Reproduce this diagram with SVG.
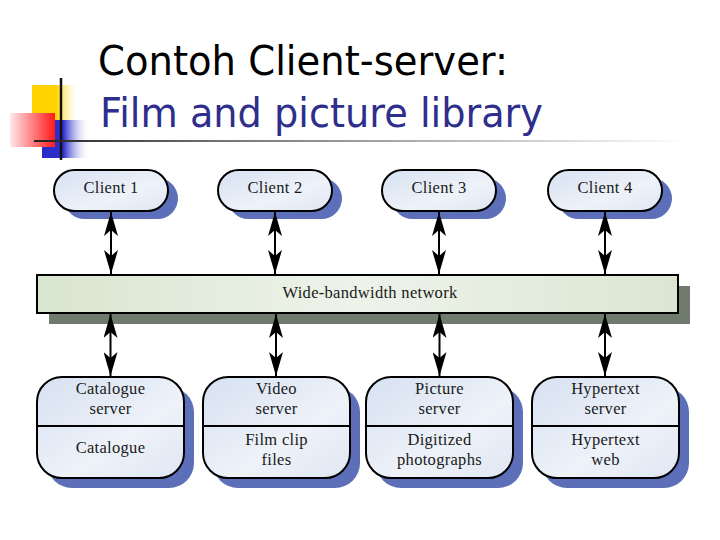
<svg xmlns="http://www.w3.org/2000/svg" width="720" height="540" viewBox="0 0 720 540">
<style>
.title{font-family:"DejaVu Sans","Liberation Sans",sans-serif;font-size:40px}
.lbl{font-family:"Liberation Serif","Times New Roman",serif;font-size:16.5px;fill:#1a1a1a;text-anchor:middle;letter-spacing:0.3px}
.node{stroke:#000;stroke-width:2}
.pill{fill:url(#gBlue)}
.shadow{fill:#5d6fb8}
.conn line{stroke:#000;stroke-width:2}
</style>
<defs>
<linearGradient id="gBlue" x1="0" y1="0" x2="1" y2="1">
<stop offset="0" stop-color="#d6e1f1"/><stop offset="0.6" stop-color="#eef2f9"/><stop offset="1" stop-color="#dfe7f3"/>
</linearGradient>
<linearGradient id="gGreen" x1="0" y1="0" x2="1" y2="0">
<stop offset="0" stop-color="#d8e5cf"/><stop offset="0.5" stop-color="#eef3ea"/><stop offset="1" stop-color="#dae6d2"/>
</linearGradient>
<linearGradient id="gYel" x1="0" y1="0" x2="1" y2="0">
<stop offset="0" stop-color="#ffd200"/><stop offset="0.5" stop-color="#ffd200"/><stop offset="1" stop-color="#ffffff" stop-opacity="0"/>
</linearGradient>
<linearGradient id="gRed" x1="0" y1="0" x2="1" y2="0">
<stop offset="0" stop-color="#ffe8e8"/><stop offset="1" stop-color="#ff1a1a"/>
</linearGradient>
<linearGradient id="gBl" x1="0" y1="0" x2="1" y2="0">
<stop offset="0" stop-color="#2a2ac8"/><stop offset="0.45" stop-color="#3030cc"/><stop offset="1" stop-color="#ffffff" stop-opacity="0"/>
</linearGradient>
<linearGradient id="gLine" x1="0" y1="0" x2="1" y2="0">
<stop offset="0" stop-color="#222"/><stop offset="0.3" stop-color="#777"/><stop offset="1" stop-color="#fff"/>
</linearGradient>
<marker id="ah2" viewBox="0 0 24 14" refX="24" refY="7" markerWidth="24" markerHeight="14" markerUnits="userSpaceOnUse" orient="auto-start-reverse">
<path d="M0,0 L24,7 L0,14 L6,7 Z" fill="#000"/>
</marker>
</defs>
<rect width="720" height="540" fill="#fff"/>
<g id="logo">
<rect x="32" y="85" width="48" height="35" fill="url(#gYel)"/>
<rect x="42" y="120" width="48" height="38" fill="url(#gBl)"/>
<rect x="10" y="113" width="45" height="34" fill="url(#gRed)"/>
<line x1="61" y1="78" x2="61" y2="160" stroke="#111" stroke-width="2.5"/>
<rect x="34" y="140" width="656" height="2" fill="url(#gLine)"/>
</g>
<g id="title">
<text class="title" x="98" y="75" fill="#000" textLength="410" lengthAdjust="spacingAndGlyphs">Contoh Client-server:</text>
<text class="title" x="100" y="127" fill="#2e2e8c" textLength="443" lengthAdjust="spacingAndGlyphs">Film and picture library</text>
</g>
<g id="network">
<rect x="49" y="286" width="641" height="38" fill="#6f7b6c"/>
<rect class="node" x="37" y="275" width="641" height="38" fill="url(#gGreen)"/>
<text class="lbl" x="370" y="298">Wide-bandwidth network</text>
</g>
<g id="client1">
<rect class="shadow" x="64" y="178" width="114" height="41" rx="20.5"/>
<rect class="node pill" x="54" y="170" width="114" height="41" rx="20.5"/>
<text class="lbl" x="111" y="193">Client 1</text>
</g>
<g id="client2">
<rect class="shadow" x="228" y="178" width="114" height="41" rx="20.5"/>
<rect class="node pill" x="218" y="170" width="114" height="41" rx="20.5"/>
<text class="lbl" x="275" y="193">Client 2</text>
</g>
<g id="client3">
<rect class="shadow" x="392" y="178" width="114" height="41" rx="20.5"/>
<rect class="node pill" x="382" y="170" width="114" height="41" rx="20.5"/>
<text class="lbl" x="439" y="193">Client 3</text>
</g>
<g id="client4">
<rect class="shadow" x="558" y="178" width="114" height="41" rx="20.5"/>
<rect class="node pill" x="548" y="170" width="114" height="41" rx="20.5"/>
<text class="lbl" x="605" y="193">Client 4</text>
</g>
<g id="catalogue">
<rect class="shadow" x="47" y="387" width="147" height="101" rx="25"/>
<rect class="node pill" x="37" y="377" width="147" height="101" rx="25"/>
<line x1="37" y1="426" x2="184" y2="426" stroke="#000" stroke-width="2"/>
<text class="lbl" x="110.5" y="394">Catalogue</text>
<text class="lbl" x="110.5" y="414">server</text>
<text class="lbl" x="110.5" y="453">Catalogue</text>
</g>
<g id="video">
<rect class="shadow" x="213" y="387" width="147" height="101" rx="25"/>
<rect class="node pill" x="203" y="377" width="147" height="101" rx="25"/>
<line x1="203" y1="426" x2="350" y2="426" stroke="#000" stroke-width="2"/>
<text class="lbl" x="276.5" y="394">Video</text>
<text class="lbl" x="276.5" y="414">server</text>
<text class="lbl" x="276.5" y="445">Film clip</text>
<text class="lbl" x="276.5" y="465">files</text>
</g>
<g id="picture">
<rect class="shadow" x="376" y="387" width="147" height="101" rx="25"/>
<rect class="node pill" x="366" y="377" width="147" height="101" rx="25"/>
<line x1="366" y1="426" x2="513" y2="426" stroke="#000" stroke-width="2"/>
<text class="lbl" x="439.5" y="394">Picture</text>
<text class="lbl" x="439.5" y="414">server</text>
<text class="lbl" x="439.5" y="445">Digitized</text>
<text class="lbl" x="439.5" y="465">photographs</text>
</g>
<g id="hypertext">
<rect class="shadow" x="542" y="387" width="147" height="101" rx="25"/>
<rect class="node pill" x="532" y="377" width="147" height="101" rx="25"/>
<line x1="532" y1="426" x2="679" y2="426" stroke="#000" stroke-width="2"/>
<text class="lbl" x="605.5" y="394">Hypertext</text>
<text class="lbl" x="605.5" y="414">server</text>
<text class="lbl" x="605.5" y="445">Hypertext</text>
<text class="lbl" x="605.5" y="465">web</text>
</g>
<g id="connectors" class="conn">
<line x1="111" y1="212" x2="111" y2="274" marker-start="url(#ah2)" marker-end="url(#ah2)"/>
<line x1="275" y1="212" x2="275" y2="274" marker-start="url(#ah2)" marker-end="url(#ah2)"/>
<line x1="439" y1="212" x2="439" y2="274" marker-start="url(#ah2)" marker-end="url(#ah2)"/>
<line x1="605" y1="212" x2="605" y2="274" marker-start="url(#ah2)" marker-end="url(#ah2)"/>
<line x1="110.5" y1="314" x2="110.5" y2="376" marker-start="url(#ah2)" marker-end="url(#ah2)"/>
<line x1="276" y1="314" x2="276" y2="376" marker-start="url(#ah2)" marker-end="url(#ah2)"/>
<line x1="439.5" y1="314" x2="439.5" y2="376" marker-start="url(#ah2)" marker-end="url(#ah2)"/>
<line x1="605" y1="314" x2="605" y2="376" marker-start="url(#ah2)" marker-end="url(#ah2)"/>
</g>
</svg>
